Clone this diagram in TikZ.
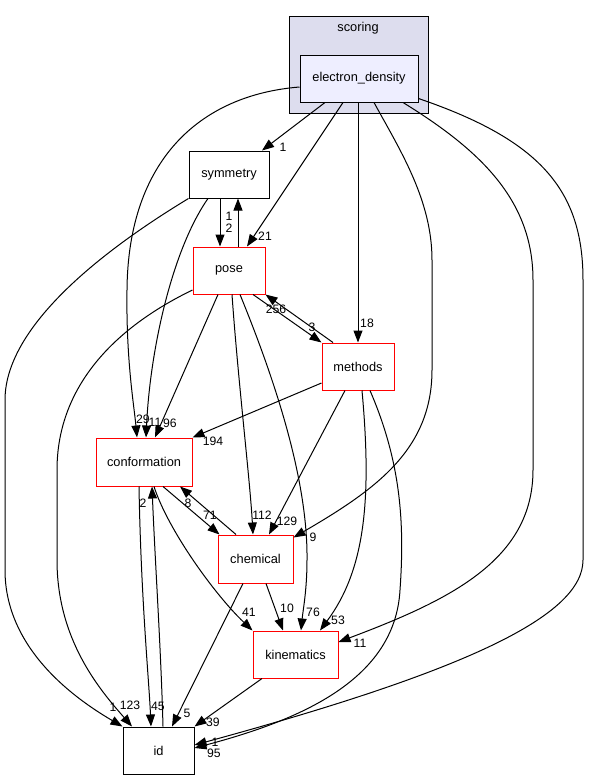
\documentclass[tikz,border=0pt]{standalone}
\usepackage{fontspec}
\setmainfont{Liberation Sans}
\usetikzlibrary{arrows.meta,calc}
\definecolor{clusterfill}{HTML}{DDDDEE}
\definecolor{dirfill}{HTML}{EEEEFF}
\begin{document}
\begin{tikzpicture}[x=1pt,y=-1pt,
  nfont/.style={font=\fontsize{12.8}{15}\selectfont},
  lbl/.style={font=\fontsize{12.2}{14}\selectfont, inner sep=0pt},
  dirbox/.style={nfont, draw=black, line width=1pt, fill=white, inner sep=0pt, rectangle},
  redbox/.style={dirbox, draw=red},
  dep/.style={draw, line width=1pt, -{Triangle[length=12pt,width=9pt]}}]
\fill[white] (0,0) rectangle (589,780);
\useasboundingbox (0,0) rectangle (589,780);
% cluster
\node[draw=black, line width=1pt, fill=clusterfill, minimum width=139, minimum height=97, inner sep=0pt] (scoring) at (358.5,64.5) {};
\node[nfont] (scoringlabel) at (358,28) {scoring};
% nodes
\node[dirbox, fill=dirfill, minimum width=118, minimum height=47] (ed) at (359,78.5) {electron\_density};
\node[dirbox, minimum width=80, minimum height=47] (sym) at (229,174.5) {symmetry};
\node[redbox, minimum width=72, minimum height=47] (pose) at (229,270.5) {pose};
\node[redbox, minimum width=72, minimum height=47] (meth) at (358,366.5) {methods};
\node[redbox, minimum width=96, minimum height=48] (conf) at (144,462) {conformation};
\node[redbox, minimum width=75, minimum height=48] (chem) at (255.5,559) {chemical};
\node[redbox, minimum width=85, minimum height=47] (kin) at (295.5,654.5) {kinematics};
\node[dirbox, minimum width=71, minimum height=47] (id) at (158.5,750.5) {id};
% edges
\draw[dep] ($(ed.south)+(-34,0)$) -- ($(sym.north)+(33,0)$);
\draw[dep] ($(ed.south)+(-16,0)$) -- ($(pose.north)+(18,0)$);
\draw[dep] ($(ed.south)+(-1,0)$) -- (meth.north);
\draw[dep] ($(ed.west)+(0,8.5)$) .. controls (200,95) and (128,160) .. (127,290) .. controls (126,360) and (134,405) .. ($(conf.north)+(-7,0)$);
\draw[dep] ($(sym.south)+(-21,0)$) .. controls (172,250) and (150,350) .. ($(conf.north)+(2,0)$);
\draw[dep] ($(pose.south)+(-11,0)$) -- ($(conf.north)+(11,0)$);
\draw[dep] (sym.south west) .. controls (120,240) and (5,320) .. (5,400) -- (5,570) .. controls (5,640) and (60,690) .. (id.north west);
\draw[dep] ($(pose.west)+(0,19.5)$) .. controls (110,330) and (57,390) .. (57,470) -- (57,560) .. controls (57,640) and (100,690) .. ($(id.north)+(-26.5,0)$);
\draw[dep] ($(conf.south)+(-5,0)$) .. controls (141,600) and (149,680) .. ($(id.north)+(-7.5,0)$);
\draw[dep] ($(id.north)+(4.5,0)$) .. controls (161,650) and (155,560) .. ($(conf.south)+(8,0)$);
\draw[dep] ($(chem.north)+(-19.5,0)$) -- ($(conf.south)+(36,0)$);
\draw[dep] ($(conf.south)+(19,0)$) -- ($(chem.north west)+(2,0)$);
\draw[dep] ($(conf.south)+(10,0)$) .. controls (168,530) and (215,595) .. (kin.north west);
\draw[dep] ($(pose.south)+(3,0)$) .. controls (238,380) and (250,480) .. ($(chem.north)+(-2.5,0)$);
\draw[dep] ($(meth.south)+(-13,0)$) -- ($(chem.north)+(13.5,0)$);
\draw[dep] ($(meth.west)+(0,16.5)$) -- (conf.north east);
\draw[dep] ($(pose.south)+(24,0)$) -- (meth.north west);
\draw[dep] ($(meth.north)+(-25,0)$) -- (pose.south east);
\draw[dep] ($(sym.south)+(-9,0)$) -- ($(pose.north)+(-9,0)$);
\draw[dep] ($(pose.north)+(9,0)$) -- ($(sym.south)+(9,0)$);
\draw[dep] ($(pose.south)+(11,0)$) .. controls (275,380) and (308,480) .. (307,560) .. controls (307,590) and (303,610) .. ($(kin.north)+(5.5,0)$);
\draw[dep] ($(meth.south)+(4,0)$) .. controls (372,500) and (365,570) .. ($(kin.north)+(24.5,0)$);
\draw[dep] ($(meth.south)+(12,0)$) .. controls (400,460) and (405,520) .. (400,590) .. controls (395,680) and (300,720) .. ($(id.east)+(0,-2.5)$);
\draw[dep] ($(ed.south)+(15,0)$) .. controls (400,150) and (432,200) .. (432,260) -- (432,370) .. controls (432,450) and (375,490) .. ($(chem.north east)+(0,3)$);
\draw[dep] ($(ed.south)+(44,0)$) .. controls (480,150) and (533,200) .. (533,280) -- (533,470) .. controls (533,560) and (450,600) .. ($(kin.east)+(0,-12.5)$);
\draw[dep] ($(ed.east)+(0,20)$) .. controls (540,140) and (583,190) .. (583,280) -- (583,560) .. controls (583,615) and (470,670) .. ($(id.east)+(0,-5.5)$);
\draw[dep] ($(kin.south)+(-33.5,0)$) -- (id.north east);
\draw[dep] ($(chem.south)+(-12.5,0)$) -- ($(id.north)+(13.5,0)$);
\draw[dep] ($(chem.south)+(10.5,0)$) -- ($(kin.north)+(-12.5,0)$);
% labels
\node[lbl] (l1) at (283,147) {1};
\node[lbl] (l2) at (265,236) {21};
\node[lbl] (l3) at (367,323) {18};
\node[lbl] (l4) at (229,216) {1};
\node[lbl] (l5) at (229,228) {2};
\node[lbl] (l6) at (276,309) {256};
\node[lbl] (l7) at (312,327) {3};
\node[lbl] (l8) at (143,419) {29};
\node[lbl] (l9) at (155,422) {11};
\node[lbl] (l10) at (170,423) {96};
\node[lbl] (l11) at (213,441) {194};
\node[lbl] (l12) at (143,503) {2};
\node[lbl] (l13) at (188,503) {8};
\node[lbl] (l14) at (210,515) {71};
\node[lbl] (l15) at (262,515) {112};
\node[lbl] (l16) at (287,521) {129};
\node[lbl] (l17) at (313,537) {9};
\node[lbl] (l18) at (249,612) {41};
\node[lbl] (l19) at (287,608) {10};
\node[lbl] (l20) at (313,612) {76};
\node[lbl] (l21) at (338,620) {53};
\node[lbl] (l22) at (360,643) {11};
\node[lbl] (l23) at (113,707) {1};
\node[lbl] (l24) at (130,705) {123};
\node[lbl] (l25) at (158,706) {45};
\node[lbl] (l26) at (187,713) {5};
\node[lbl] (l27) at (213,722) {39};
\node[lbl] (l28) at (215,742) {1};
\node[lbl] (l29) at (214,753) {95};
\end{tikzpicture}
\end{document}
